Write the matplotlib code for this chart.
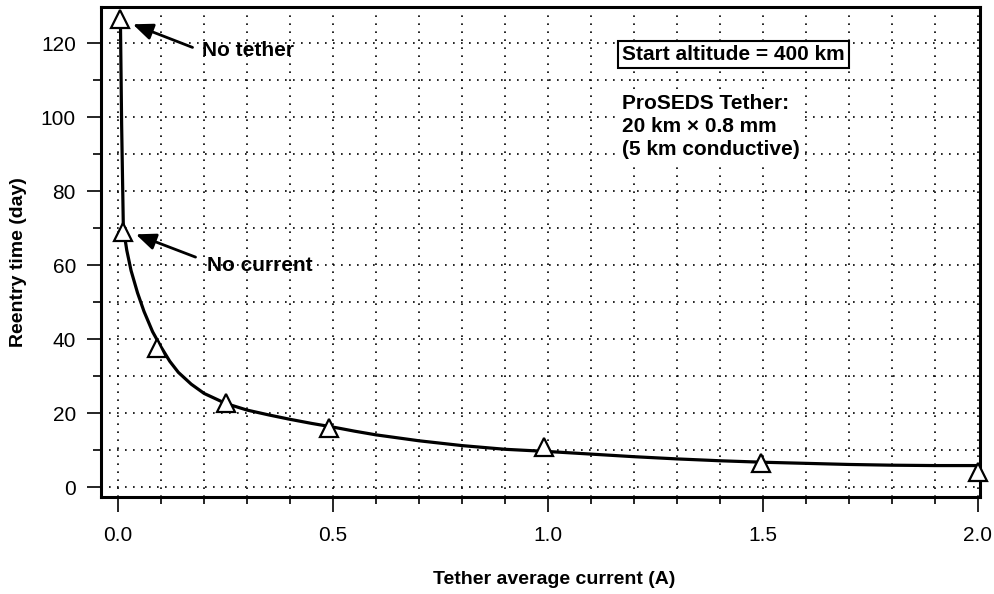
import numpy as np
import matplotlib
matplotlib.use('Agg')
import matplotlib.pyplot as plt
from matplotlib.ticker import MultipleLocator, FormatStrFormatter

plt.rcParams['font.family'] = ['Liberation Sans', 'DejaVu Sans']

# simulated reentry curve
curve_current = [0.005, 0.008, 0.012, 0.02, 0.03, 0.045, 0.06, 0.08, 0.10, 0.12,
                 0.14, 0.17, 0.20, 0.25, 0.30, 0.35, 0.40, 0.45, 0.50, 0.55,
                 0.6, 0.7, 0.8, 0.9, 1.0, 1.1, 1.2, 1.3, 1.4, 1.5, 1.6, 1.7,
                 1.8, 1.9, 2.0]
curve_days = [128, 98, 70, 64, 58.5, 52.5, 47.5, 42, 37.8, 34,
              31, 27.8, 25.3, 22.6, 20.8, 19.5, 18.3, 17.2, 16.2, 15.1,
              14.1, 12.5, 11.2, 10.2, 9.6, 8.9, 8.2, 7.6, 7.1, 6.7, 6.4, 6.1,
              5.9, 5.8, 5.8]

# triangle markers
pts_current = [0.005, 0.011, 0.09, 0.25, 0.49, 0.99, 1.495, 2.0]
pts_days = [126.5, 69, 37.5, 22.8, 16.0, 10.8, 6.5, 4.0]

fig = plt.figure(figsize=(9.95, 5.94), dpi=100)
ax = fig.add_axes([101 / 995, 97 / 594, 879 / 995, 490 / 594])

ax.plot(curve_current, curve_days, color='black', lw=2.3, zorder=3,
        solid_joinstyle='round')
ax.plot(pts_current, pts_days, ls='none', marker='^', ms=13, mfc='white',
        mec='black', mew=1.6, zorder=4, clip_on=False)

ax.set_xlim(-0.04, 2.005)
ax.set_ylim(-2.7, 129.8)
ax.xaxis.set_major_locator(MultipleLocator(0.5))
ax.xaxis.set_minor_locator(MultipleLocator(0.1))
ax.yaxis.set_major_locator(MultipleLocator(20))
ax.yaxis.set_minor_locator(MultipleLocator(10))
ax.xaxis.set_major_formatter(FormatStrFormatter('%.1f'))

ax.grid(which='both', color='black', ls=(0, (1, 3.8)), lw=1.2)
for s in ax.spines.values():
    s.set_linewidth(2.2)

ax.tick_params(axis='x', which='major', length=11, width=1.2, pad=10, labelsize=15)
ax.tick_params(axis='x', which='minor', length=5, width=1.2)
ax.tick_params(axis='y', which='major', length=10, width=1.2, pad=8, labelsize=15)
ax.tick_params(axis='y', which='minor', length=6, width=1.2)

ax.set_xlabel('Tether average current (A)', fontsize=14, fontweight='bold')
ax.xaxis.set_label_coords(0.516, -0.15)
ax.set_ylabel('Reentry time (day)', fontsize=14, fontweight='bold')
ax.yaxis.set_label_coords(-0.084, 0.48)

arrow = dict(arrowstyle='-|>,head_length=1.2,head_width=0.5', color='black', lw=2)
ax.annotate('', xy=(0.028, 125.4), xytext=(0.179, 118.6), arrowprops=arrow)
ax.text(0.195, 118.1, 'No tether', fontsize=15, fontweight='bold', ha='left', va='center')
ax.annotate('', xy=(0.035, 68.6), xytext=(0.186, 61.9), arrowprops=arrow)
ax.text(0.207, 60, 'No current', fontsize=15, fontweight='bold', ha='left', va='center')

ax.text(1.172, 117, 'Start altitude = 400 km', fontsize=15, fontweight='bold',
        ha='left', va='center',
        bbox=dict(boxstyle='square,pad=0.2', fc='white', ec='black', lw=1.5))
ax.text(1.172, 97.6, 'ProSEDS Tether:\n20 km \u00d7 0.8 mm\n(5 km conductive)',
        fontsize=15, fontweight='bold', ha='left', va='center', linespacing=1.27,
        bbox=dict(boxstyle='square,pad=0.1', fc='white', ec='none'))

fig.savefig('out.png', dpi=100)
